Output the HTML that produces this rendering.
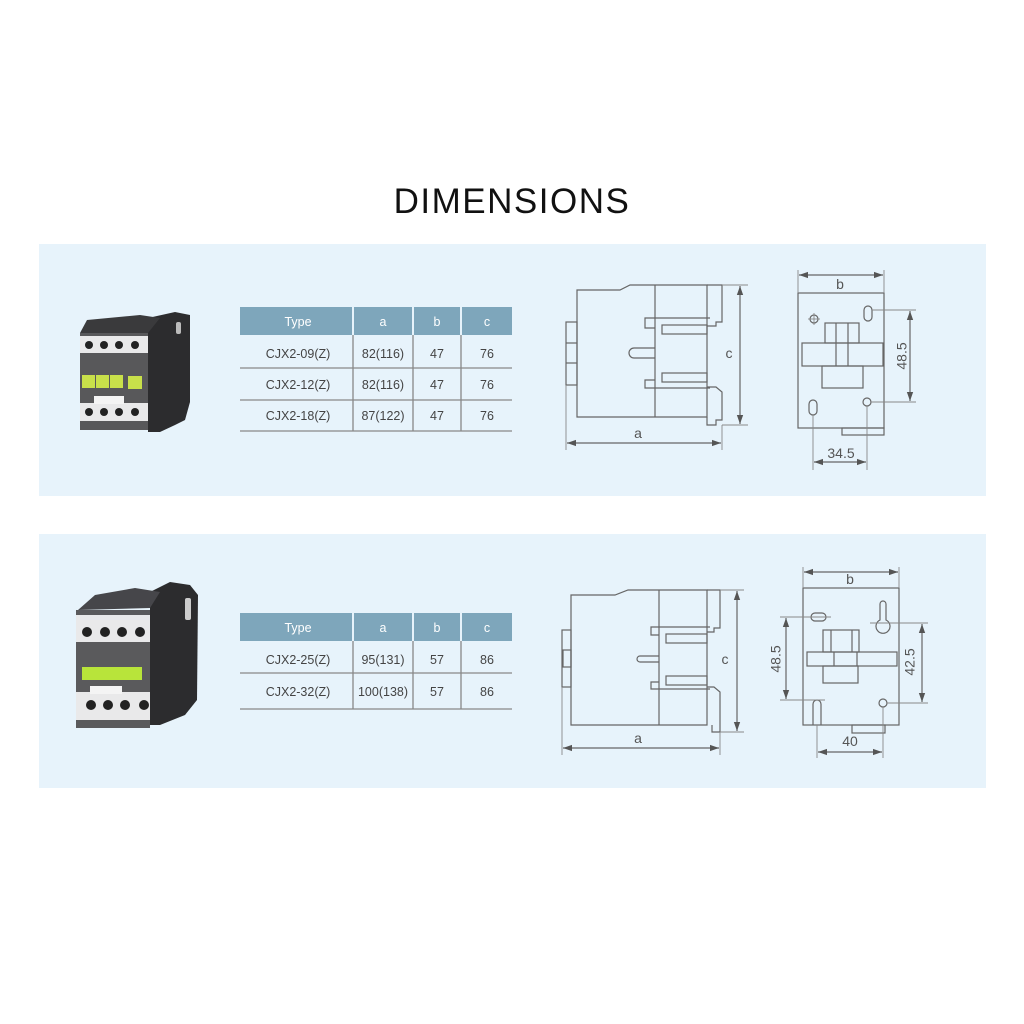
<!DOCTYPE html>
<html><head><meta charset="utf-8"><style>
html,body{margin:0;padding:0;background:#fff;width:1024px;height:1024px;overflow:hidden}
svg{display:block}
</style></head><body>
<svg width="1024" height="1024" viewBox="0 0 1024 1024" xmlns="http://www.w3.org/2000/svg" font-family="Liberation Sans, sans-serif">
<defs>
<marker id="ar" viewBox="0 0 10 10" refX="10" refY="5" markerWidth="9" markerHeight="9" markerUnits="userSpaceOnUse" orient="auto-start-reverse"><path d="M0,1.5 L10,5 L0,8.5 z" fill="#555"/></marker>
</defs>
<rect width="1024" height="1024" fill="#fff"/>
<text x="512" y="213" text-anchor="middle" font-size="35" fill="#111" letter-spacing="1.5">DIMENSIONS</text>

<rect x="39" y="244" width="947" height="252" fill="#e7f3fb"/>
<rect x="39" y="534" width="947" height="254" fill="#e7f3fb"/>

<!-- Table 1 -->
<g font-size="12.5" fill="#444" text-anchor="middle">
<rect x="240" y="307" width="112" height="28" fill="#7ea6bb"/>
<rect x="354" y="307" width="58" height="28" fill="#7ea6bb"/>
<rect x="414" y="307" width="46" height="28" fill="#7ea6bb"/>
<rect x="462" y="307" width="50" height="28" fill="#7ea6bb"/>
<text x="298" y="326" fill="#fff">Type</text><text x="383" y="326" fill="#fff">a</text><text x="437" y="326" fill="#fff">b</text><text x="487" y="326" fill="#fff">c</text>
<g stroke="#888" stroke-width="1.3"><line x1="240" y1="368" x2="512" y2="368"/><line x1="240" y1="400" x2="512" y2="400"/><line x1="240" y1="431" x2="512" y2="431"/>
<line x1="353" y1="335" x2="353" y2="431"/><line x1="413" y1="335" x2="413" y2="431"/><line x1="461" y1="335" x2="461" y2="431"/></g>
<text x="298" y="358">CJX2-09(Z)</text><text x="383" y="358">82(116)</text><text x="437" y="358">47</text><text x="487" y="358">76</text>
<text x="298" y="389">CJX2-12(Z)</text><text x="383" y="389">82(116)</text><text x="437" y="389">47</text><text x="487" y="389">76</text>
<text x="298" y="420">CJX2-18(Z)</text><text x="383" y="420">87(122)</text><text x="437" y="420">47</text><text x="487" y="420">76</text>
</g>

<!-- Table 2 -->
<g font-size="12.5" fill="#444" text-anchor="middle">
<rect x="240" y="613" width="112" height="28" fill="#7ea6bb"/>
<rect x="354" y="613" width="58" height="28" fill="#7ea6bb"/>
<rect x="414" y="613" width="46" height="28" fill="#7ea6bb"/>
<rect x="462" y="613" width="50" height="28" fill="#7ea6bb"/>
<text x="298" y="632" fill="#fff">Type</text><text x="383" y="632" fill="#fff">a</text><text x="437" y="632" fill="#fff">b</text><text x="487" y="632" fill="#fff">c</text>
<g stroke="#888" stroke-width="1.3"><line x1="240" y1="673" x2="512" y2="673"/><line x1="240" y1="709" x2="512" y2="709"/>
<line x1="353" y1="641" x2="353" y2="709"/><line x1="413" y1="641" x2="413" y2="709"/><line x1="461" y1="641" x2="461" y2="709"/></g>
<text x="298" y="664">CJX2-25(Z)</text><text x="383" y="664">95(131)</text><text x="437" y="664">57</text><text x="487" y="664">86</text>
<text x="298" y="696">CJX2-32(Z)</text><text x="383" y="696">100(138)</text><text x="437" y="696">57</text><text x="487" y="696">86</text>
</g>

<!-- Drawings 1 -->
<g fill="none" stroke="#666" stroke-width="1.2">
<path d="M577,290 L620,290 L630,285 L707,285 L707,417 L577,417 Z"/>
<line x1="655" y1="285" x2="655" y2="417"/>
<path d="M707,285 L722,285 L722,322 L716,322 L716,326 L707,326"/>
<path d="M707,387 L716,387 L722,392 L722,420 L716,420 L716,425 L707,425 L707,417"/>
<rect x="566" y="322" width="11" height="63"/><line x1="566" y1="343" x2="577" y2="343"/><line x1="566" y1="363" x2="577" y2="363"/>
<path d="M710,318 L645,318 L645,328 L655,328"/><rect x="662" y="325" width="45" height="9"/>
<path d="M710,388 L645,388 L645,380 L655,380"/><rect x="662" y="373" width="45" height="9"/>
<path d="M655,348 L634,348 A5,5 0 0 0 634,358 L655,358"/>
<g stroke="#888" stroke-width="0.9"><line x1="566" y1="385" x2="566" y2="450"/><line x1="722" y1="425" x2="722" y2="450"/><line x1="722" y1="285" x2="748" y2="285"/><line x1="722" y1="425" x2="748" y2="425"/></g>
<line x1="567" y1="443" x2="721" y2="443" marker-start="url(#ar)" marker-end="url(#ar)" stroke="#666"/>
<line x1="740" y1="286" x2="740" y2="424" marker-start="url(#ar)" marker-end="url(#ar)" stroke="#666"/>

<rect x="798" y="293" width="86" height="135"/>
<rect x="842" y="428" width="42" height="7"/>
<rect x="802" y="343" width="81" height="23"/>
<rect x="825" y="323" width="34" height="20"/><line x1="836" y1="323" x2="836" y2="366"/><line x1="848" y1="323" x2="848" y2="366"/>
<rect x="822" y="366" width="41" height="22"/>
<circle cx="814" cy="319" r="4"/>
<rect x="864" y="306" width="8" height="15" rx="4"/>
<rect x="809" y="400" width="8" height="15" rx="4"/>
<circle cx="867" cy="402" r="4"/>
<g stroke="#888" stroke-width="0.9"><line x1="798" y1="270" x2="798" y2="293"/><line x1="884" y1="270" x2="884" y2="293"/>
<line x1="872" y1="310" x2="916" y2="310"/><line x1="871" y1="402" x2="916" y2="402"/>
<line x1="813" y1="415" x2="813" y2="470"/><line x1="867" y1="406" x2="867" y2="470"/>
<line x1="808" y1="319" x2="820" y2="319"/><line x1="814" y1="313" x2="814" y2="325"/></g>
<line x1="799" y1="275" x2="883" y2="275" marker-start="url(#ar)" marker-end="url(#ar)"/>
<line x1="910" y1="311" x2="910" y2="401" marker-start="url(#ar)" marker-end="url(#ar)"/>
<line x1="814" y1="462" x2="866" y2="462" marker-start="url(#ar)" marker-end="url(#ar)"/>
</g>
<g fill="#555" font-size="14" text-anchor="middle">
<text x="638" y="438">a</text><text x="729" y="358">c</text><text x="840" y="289">b</text>
<text x="841" y="458">34.5</text>
<text x="903" y="356" transform="rotate(-90 903 356)" dominant-baseline="middle">48.5</text>
</g>

<!-- Drawings 2 -->
<g fill="none" stroke="#666" stroke-width="1.2">
<path d="M571,595 L615,595 L628,590 L707,590 L707,725 L571,725 Z"/>
<line x1="659" y1="590" x2="659" y2="725"/>
<path d="M707,590 L720,590 L720,628 L714,628 L714,632 L707,632"/>
<path d="M707,687 L714,687 L720,692 L720,732 L712,732 L712,725"/>
<rect x="562" y="630" width="9" height="57"/><rect x="563" y="650" width="8" height="17"/>
<path d="M710,627 L651,627 L651,635 L659,635"/><rect x="666" y="634" width="41" height="9"/>
<path d="M710,689 L651,689 L651,682 L659,682"/><rect x="666" y="676" width="41" height="9"/>
<path d="M659,656 L640,656 A3,3 0 0 0 640,662 L659,662"/>
<g stroke="#888" stroke-width="0.9"><line x1="562" y1="687" x2="562" y2="755"/><line x1="720" y1="732" x2="720" y2="755"/><line x1="720" y1="590" x2="744" y2="590"/><line x1="720" y1="732" x2="744" y2="732"/></g>
<line x1="563" y1="748" x2="719" y2="748" marker-start="url(#ar)" marker-end="url(#ar)"/>
<line x1="737" y1="591" x2="737" y2="731" marker-start="url(#ar)" marker-end="url(#ar)"/>

<rect x="803" y="588" width="96" height="137"/>
<rect x="852" y="725" width="33" height="8"/>
<rect x="807" y="652" width="90" height="14"/><line x1="834" y1="652" x2="834" y2="666"/><line x1="857" y1="652" x2="857" y2="666"/>
<rect x="823" y="630" width="36" height="22"/><line x1="831" y1="630" x2="831" y2="652"/><line x1="852" y1="630" x2="852" y2="652"/>
<rect x="823" y="666" width="35" height="17"/>
<rect x="811" y="613" width="15" height="8" rx="4"/>
<path d="M880,620 L880,604 A3,3 0 0 1 886,604 L886,620 A7,7 0 1 1 880,620 Z"/>
<path d="M813,725 L813,704 A4,4 0 0 1 821,704 L821,725"/>
<circle cx="883" cy="703" r="4"/>
<g stroke="#888" stroke-width="0.9"><line x1="803" y1="567" x2="803" y2="588"/><line x1="899" y1="567" x2="899" y2="588"/>
<line x1="780" y1="617" x2="831" y2="617"/><line x1="780" y1="700" x2="825" y2="700"/>
<line x1="870" y1="623" x2="928" y2="623"/><line x1="887" y1="703" x2="928" y2="703"/>
<line x1="817" y1="725" x2="817" y2="758"/><line x1="883" y1="707" x2="883" y2="758"/></g>
<line x1="804" y1="572" x2="898" y2="572" marker-start="url(#ar)" marker-end="url(#ar)"/>
<line x1="786" y1="618" x2="786" y2="699" marker-start="url(#ar)" marker-end="url(#ar)"/>
<line x1="922" y1="624" x2="922" y2="702" marker-start="url(#ar)" marker-end="url(#ar)"/>
<line x1="818" y1="752" x2="882" y2="752" marker-start="url(#ar)" marker-end="url(#ar)"/>
</g>
<g fill="#555" font-size="14" text-anchor="middle">
<text x="638" y="743">a</text><text x="725" y="664">c</text><text x="850" y="584">b</text>
<text x="850" y="746">40</text>
<text x="777" y="659" transform="rotate(-90 777 659)" dominant-baseline="middle">48.5</text>
<text x="911" y="662" transform="rotate(-90 911 662)" dominant-baseline="middle">42.5</text>
</g>

<!-- Photo 1 -->
<g>
<path d="M148,318 L175,312 L190,315 L190,402 L185,420 L175,425 L160,432 L148,432 Z" fill="#2c2c2e"/>
<path d="M87,320 L140,315 L160,318 L148,333 L80,333 Z" fill="#3a3a3c"/>
<rect x="80" y="333" width="68" height="97" fill="#58585a"/>
<rect x="80" y="336" width="68" height="17" fill="#e9e9ea"/>
<rect x="80" y="403" width="68" height="18" fill="#e9e9ea"/>
<g fill="#222"><circle cx="89" cy="345" r="4"/><circle cx="104" cy="345" r="4"/><circle cx="119" cy="345" r="4"/><circle cx="135" cy="345" r="4"/>
<circle cx="89" cy="412" r="4"/><circle cx="104" cy="412" r="4"/><circle cx="119" cy="412" r="4"/><circle cx="135" cy="412" r="4"/></g>
<g fill="#c8e04a"><rect x="82" y="375" width="13" height="13"/><rect x="96" y="375" width="13" height="13"/><rect x="110" y="375" width="13" height="13"/><rect x="128" y="376" width="14" height="13"/></g>
<rect x="94" y="396" width="30" height="8" fill="#f4f4f4"/>
<rect x="176" y="322" width="5" height="12" fill="#bbb" rx="2"/>
</g>

<!-- Photo 2 -->
<g>
<path d="M150,592 L170,582 L190,585 L198,595 L197,700 L185,715 L160,725 L150,725 Z" fill="#2c2c2e"/>
<path d="M95,595 L135,588 L160,592 L150,608 L78,610 Z" fill="#46464a"/>
<rect x="76" y="610" width="74" height="118" fill="#5a5a5c"/>
<rect x="76" y="615" width="74" height="27" fill="#e9e9ea"/>
<rect x="76" y="692" width="74" height="28" fill="#e9e9ea"/>
<g fill="#222"><circle cx="87" cy="632" r="5"/><circle cx="105" cy="632" r="5"/><circle cx="122" cy="632" r="5"/><circle cx="140" cy="632" r="5"/>
<circle cx="91" cy="705" r="5"/><circle cx="108" cy="705" r="5"/><circle cx="125" cy="705" r="5"/><circle cx="144" cy="705" r="5"/></g>
<rect x="82" y="667" width="60" height="13" fill="#b8e43a"/>
<rect x="90" y="686" width="32" height="8" fill="#f4f4f4"/>
<rect x="185" y="598" width="6" height="22" fill="#ccc" rx="2"/>
</g>
</svg>
</body></html>
